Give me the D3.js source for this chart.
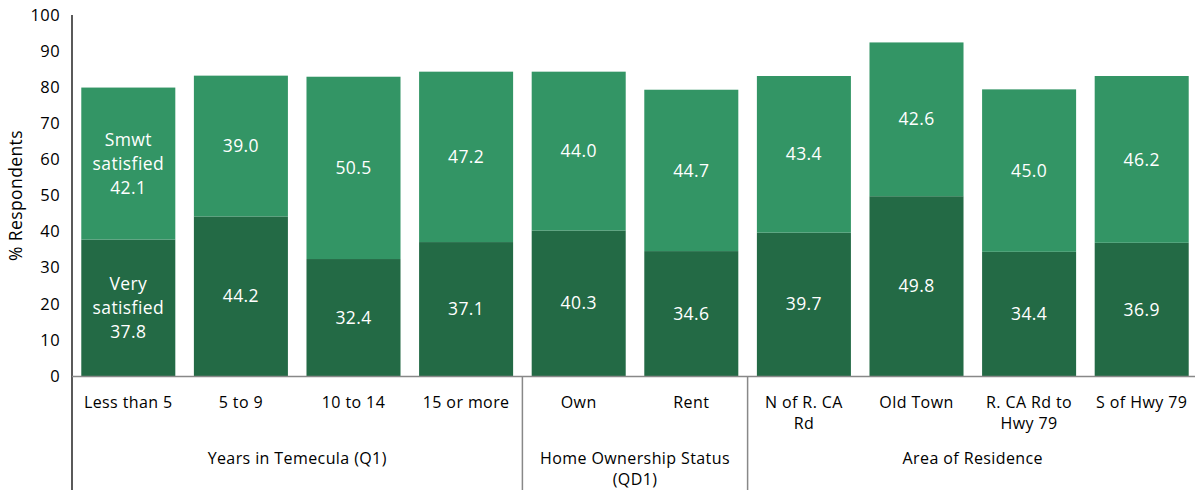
<!DOCTYPE html>
<html>
<head>
<meta charset="utf-8">
<script src="https://cdn.jsdelivr.net/npm/d3@7"></script>
<style>
  body { margin: 0; background: #fff; }
  text { font-family: "Open Sans", "DejaVu Sans", sans-serif; letter-spacing: 0.4px; }
</style>
</head>
<body>
<div id="chart"></div>
<script>
var categories = ["Less than 5", "5 to 9", "10 to 14", "15 or more", "Own", "Rent", "N of R. CA Rd", "Old Town", "R. CA Rd to Hwy 79", "S of Hwy 79"];
var categoryLines = [["Less than 5"], ["5 to 9"], ["10 to 14"], ["15 or more"], ["Own"], ["Rent"], ["N of R. CA", "Rd"], ["Old Town"], ["R. CA Rd to", "Hwy 79"], ["S of Hwy 79"]];
var verySatisfied = [37.8, 44.2, 32.4, 37.1, 40.3, 34.6, 39.7, 49.8, 34.4, 36.9];
var smwtSatisfied = [42.1, 39.0, 50.5, 47.2, 44.0, 44.7, 43.4, 42.6, 45.0, 46.2];
var groups = [
  { lines: ["Years in Temecula (Q1)"], first: 0, last: 3 },
  { lines: ["Home Ownership Status", "(QD1)"], first: 4, last: 5 },
  { lines: ["Area of Residence"], first: 6, last: 9 }
];
var yTicks = [0, 10, 20, 30, 40, 50, 60, 70, 80, 90, 100];

var w = 1195, h = 490;
var plotLeft = 72, plotRight = 1198, plotTop = 15, plotBottom = 376;
var dark = "#236a45", light = "#339565";

var svg = d3.select("#chart").append("svg")
  .attr("width", w).attr("height", h);

var x = d3.scaleBand()
  .domain(categories)
  .range([plotLeft, plotRight])
  .paddingInner(0.165)
  .paddingOuter(0.0825);

var y = d3.scaleLinear().domain([0, 100]).range([plotBottom, plotTop]);

var data = categories.map(function(c, i) {
  return { cat: c, v: verySatisfied[i], s: smwtSatisfied[i], lines: categoryLines[i], i: i };
});

// stacked bars
svg.selectAll(".vs").data(data).enter().append("rect")
  .attr("x", d => x(d.cat))
  .attr("width", x.bandwidth())
  .attr("y", d => y(d.v))
  .attr("height", d => y(0) - y(d.v))
  .attr("fill", dark);

svg.selectAll(".ss").data(data).enter().append("rect")
  .attr("x", d => x(d.cat))
  .attr("width", x.bandwidth())
  .attr("y", d => y(d.v + d.s))
  .attr("height", d => y(d.v) - y(d.v + d.s))
  .attr("fill", light);

// labels inside bars (first bar also names the series)
function barLabel(d, val, base, prefix) {
  var lines = d.i === 0 ? prefix.concat([val.toFixed(1)]) : [val.toFixed(1)];
  var cx = x(d.cat) + x.bandwidth() / 2;
  var cy = y(base + val / 2);
  var t = svg.append("text")
    .attr("text-anchor", "middle")
    .attr("fill", "#fff")
    .attr("font-size", 17.5);
  lines.forEach(function(l, k) {
    t.append("tspan")
      .attr("x", cx)
      .attr("y", cy + (k - (lines.length - 1) / 2) * 24)
      .attr("dy", "0.35em")
      .text(l);
  });
}
data.forEach(function(d) {
  barLabel(d, d.v, 0, ["Very", "satisfied"]);
  barLabel(d, d.s, d.v, ["Smwt", "satisfied"]);
});

// y axis
var yAxis = d3.axisLeft(y).tickValues(yTicks).tickSize(0).tickPadding(12);
var ya = svg.append("g").attr("transform", `translate(${plotLeft},0)`).call(yAxis);
ya.select(".domain").remove();
ya.selectAll("text").attr("font-size", 16.5).attr("fill", "#000")
  .style("font-family", "'Open Sans', sans-serif");

svg.append("line")
  .attr("x1", plotLeft).attr("x2", plotLeft).attr("y1", plotTop).attr("y2", h)
  .attr("stroke", "#000").attr("stroke-width", 1.3);

svg.append("text")
  .attr("transform", `translate(22,${(plotTop + plotBottom) / 2}) rotate(-90)`)
  .attr("text-anchor", "middle")
  .attr("font-size", 17.5)
  .text("% Respondents");

// baseline
svg.append("line")
  .attr("x1", plotLeft).attr("x2", w).attr("y1", plotBottom + 0.5).attr("y2", plotBottom + 0.5)
  .attr("stroke", "#888").attr("stroke-width", 1.5);

// category labels
data.forEach(function(d) {
  var t = svg.append("text")
    .attr("text-anchor", "middle")
    .attr("font-size", 16)
    .attr("fill", "#000");
  d.lines.forEach(function(l, k) {
    t.append("tspan")
      .attr("x", x(d.cat) + x.bandwidth() / 2)
      .attr("y", 402 + k * 21)
      .attr("dy", "0.35em")
      .text(l);
  });
});

// group separators and labels
var step = x.step();
groups.forEach(function(g, gi) {
  var x0 = x(categories[g.first]) - x.paddingInner() * step / 2;
  var x1 = x(categories[g.last]) + x.bandwidth() + x.paddingInner() * step / 2;
  if (gi > 0) {
    svg.append("line")
      .attr("x1", x0).attr("x2", x0).attr("y1", plotBottom).attr("y2", h)
      .attr("stroke", "#888").attr("stroke-width", 1.5);
  }
  var t = svg.append("text")
    .attr("text-anchor", "middle")
    .attr("font-size", 16)
    .attr("fill", "#000");
  g.lines.forEach(function(l, k) {
    t.append("tspan")
      .attr("x", (Math.max(x0, plotLeft) + Math.min(x1, plotRight)) / 2)
      .attr("y", 458 + k * 21)
      .attr("dy", "0.35em")
      .text(l);
  });
});
</script>
</body>
</html>
